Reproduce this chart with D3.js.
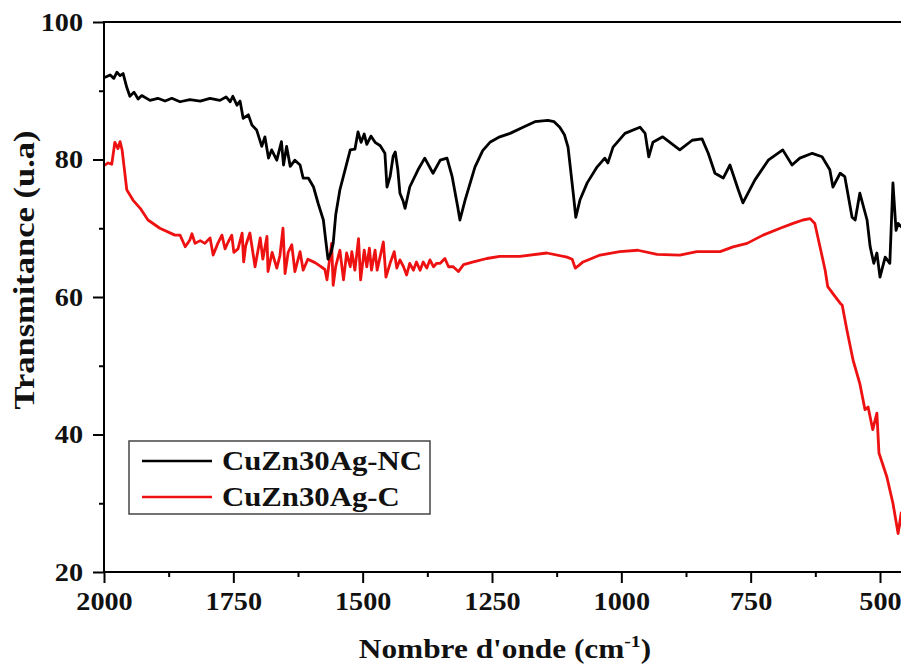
<!DOCTYPE html>
<html><head><meta charset="utf-8">
<script src="https://cdn.jsdelivr.net/npm/d3@7/dist/d3.min.js"></script>
<style>
html,body{margin:0;padding:0;background:#fff;overflow:hidden}
svg{display:block}
text{font-family:"Liberation Serif","Times New Roman",serif;font-weight:bold;fill:#111}
</style></head>
<body>
<svg id="chart" width="901" height="670"></svg>
<script>
// Wavenumber (cm-1) and transmittance (u.a)
const ncWave = [2000,1988,1981,1975,1969,1963,1956,1950,1942,1934,1927,1911,1896,1882,1869,1853,1834,1814,1795,1776,1764,1756,1751,1743,1737,1731,1721,1714,1705,1695,1689,1682,1676,1666,1657,1653,1647,1640,1631,1621,1615,1605,1595,1586,1576,1571,1567,1561,1557,1552,1544,1534,1524,1515,1509,1503,1497,1492,1484,1476,1466,1457,1453,1447,1441,1437,1432,1428,1422,1418,1409,1393,1380,1364,1350,1337,1327,1316,1312,1302,1283,1268,1254,1235,1215,1190,1167,1142,1130,1119,1110,1103,1093,1088,1080,1066,1047,1032,1026,1016,993,964,954,947,939,920,887,863,844,832,819,803,790,774,765,742,716,688,670,655,631,612,597,591,577,568,554,548,539,525,519,512,506,500,490,481,475,469,465,456];
const ncVal  = [91.9,92.3,91.8,92.7,92.2,92.5,90.5,89.2,89.8,88.8,89.3,88.6,88.9,88.5,88.9,88.4,88.7,88.5,88.9,88.6,89.1,88.4,89.2,87.9,88.5,86.0,86.5,85.0,84.3,81.9,83.3,80.2,81.4,79.9,82.6,79.2,81.9,79.0,79.9,79.2,77.3,77.3,76.0,73.6,71.2,68.0,65.5,66.5,67.8,72.0,75.6,78.5,81.4,81.5,84.0,82.5,83.7,82.2,83.4,82.5,82.0,80.9,76.0,77.5,80.5,81.1,78.5,75.1,74.0,72.9,76.0,78.5,80.2,78.0,79.9,80.2,77.5,73.0,71.2,74.1,78.9,81.3,82.5,83.3,83.8,84.7,85.5,85.7,85.5,84.7,83.6,81.8,75.1,71.6,74.1,76.6,78.9,80.2,79.5,81.8,83.8,84.7,83.8,80.4,82.5,83.3,81.4,82.8,83.0,80.9,78.0,77.3,79.2,75.6,73.7,77.0,79.9,81.4,79.2,80.2,80.9,80.4,78.5,76.0,78.0,77.5,71.6,71.2,75.1,71.2,67.3,64.9,66.4,62.9,65.8,64.9,76.6,69.7,70.7,70.0];

const cWave = [2000,1992,1985,1979,1973,1969,1965,1956,1944,1930,1915,1892,1863,1853,1847,1843,1834,1830,1824,1814,1805,1795,1789,1780,1772,1766,1760,1753,1749,1741,1733,1730,1726,1718,1708,1698,1693,1685,1683,1675,1666,1660,1654,1650,1644,1637,1631,1621,1615,1606,1592,1582,1573,1569,1560,1557,1552,1544,1537,1531,1524,1521,1515,1508,1504,1497,1492,1487,1483,1476,1472,1460,1455,1447,1439,1434,1428,1421,1415,1409,1402,1396,1389,1383,1376,1370,1363,1357,1350,1341,1334,1325,1315,1305,1286,1260,1235,1196,1144,1105,1095,1089,1082,1074,1041,1003,968,931,887,854,809,784,757,726,693,668,649,635,626,616,606,601,591,577,573,564,552,539,529,523,514,506,502,487,475,465,459,456];
const cVal  = [79.1,79.5,79.3,82.5,81.6,82.6,81.4,75.6,74.1,72.9,71.2,70.0,69.0,69.0,68.0,67.3,68.3,69.2,67.8,68.2,67.8,68.6,66.1,67.8,69.0,67.0,68.0,69.0,66.5,67.0,69.3,65.1,67.5,69.3,64.4,68.6,65.5,68.8,63.7,66.5,64.2,66.0,70.0,63.4,66.5,67.6,63.7,66.6,63.9,65.5,65.0,64.5,64.0,62.5,67.8,61.7,64.5,66.8,62.5,66.4,64.4,66.6,63.9,68.5,62.5,66.8,64.4,67.1,63.9,66.8,63.9,68.0,62.9,64.9,66.6,64.2,65.4,64.4,63.2,64.9,63.9,65.1,63.9,65.1,64.2,65.4,64.4,64.9,64.9,65.6,64.4,64.4,63.7,64.7,65.1,65.6,65.9,65.9,66.4,65.8,65.5,64.2,64.6,65.1,66.1,66.6,66.8,66.2,66.1,66.6,66.6,67.3,67.8,69.0,70.0,70.7,71.2,71.4,70.7,67.3,63.9,61.5,60.5,59.1,58.8,55.2,50.8,47.4,43.6,44.0,40.7,43.1,37.3,33.9,30.0,25.6,28.6,25.5];

const seriesNames = ["CuZn30Ag-NC","CuZn30Ag-C"];
const seriesColors = ["#000000","#ee1111"];
const xTicks = [2000,1750,1500,1250,1000,750,500];
const xMinor = [1875,1625,1375,1125,875,625];
const yTicks = [20,40,60,80,100];
const yMinor = [30,50,70,90];

const svg = d3.select("#chart");
const x = d3.scaleLinear().domain([2000,500]).range([104,880]);
const y = d3.scaleLinear().domain([20,100]).range([572,22]);
const xRightEdge = 920;
const sx = 1.13; // horizontal text stretch seen in the figure

svg.append("defs").append("clipPath").attr("id","clip")
  .append("rect").attr("x",104).attr("y",22).attr("width",xRightEdge-104).attr("height",550);

const line = d3.line().x(d=>x(d[0])).y(d=>y(d[1]));
const g = svg.append("g").attr("clip-path","url(#clip)");
g.append("path").datum(cWave.map((w,i)=>[w,cVal[i]]))
  .attr("d",line).attr("fill","none").attr("stroke",seriesColors[1]).attr("stroke-width",2.8).attr("stroke-linejoin","round");
g.append("path").datum(ncWave.map((w,i)=>[w,ncVal[i]]))
  .attr("d",line).attr("fill","none").attr("stroke",seriesColors[0]).attr("stroke-width",2.8).attr("stroke-linejoin","round");

// Axes
const axW = 2;
const xAxisG = svg.append("g").attr("transform","translate(0,572)");
xAxisG.call(d3.axisBottom(x).tickValues(xTicks).tickSize(11).tickPadding(8).tickFormat(d3.format("d")));
xAxisG.append("g").call(d3.axisBottom(x).tickValues(xMinor).tickSize(5).tickFormat(""));
xAxisG.selectAll("path.domain").remove();
xAxisG.selectAll("line").attr("stroke","#000").attr("stroke-width",axW);
xAxisG.selectAll("text").attr("font-size",25).attr("font-family","Liberation Serif").attr("font-weight","bold")
  .attr("fill","#111").attr("dy","0.75em").attr("transform",`scale(${sx},1)`);
svg.append("line").attr("x1",103).attr("x2",xRightEdge).attr("y1",572).attr("y2",572).attr("stroke","#000").attr("stroke-width",axW);
svg.append("line").attr("x1",103).attr("x2",xRightEdge).attr("y1",22).attr("y2",22).attr("stroke","#000").attr("stroke-width",axW);
const yAxisG = svg.append("g").attr("transform","translate(104,0)");
yAxisG.call(d3.axisLeft(y).tickValues(yTicks).tickSize(11).tickPadding(9).tickFormat(d3.format("d")));
yAxisG.append("g").call(d3.axisLeft(y).tickValues(yMinor).tickSize(5).tickFormat(""));
yAxisG.selectAll("path.domain").remove();
yAxisG.selectAll("line").attr("stroke","#000").attr("stroke-width",axW);
yAxisG.selectAll("text").attr("font-size",25).attr("font-family","Liberation Serif").attr("font-weight","bold")
  .attr("fill","#111").attr("x",-21/sx).attr("transform",`scale(${sx},1)`);
svg.append("line").attr("x1",104).attr("x2",104).attr("y1",21).attr("y2",573).attr("stroke","#000").attr("stroke-width",axW);

// Axis titles
const xt = svg.append("text").attr("transform",`translate(505,658) scale(1.16,1)`).attr("text-anchor","middle").attr("font-size",27);
xt.append("tspan").text("Nombre d'onde (cm");
xt.append("tspan").attr("font-size",17).attr("dy",-11).text("-1");
xt.append("tspan").attr("dy",11).text(")");

svg.append("text").attr("transform","translate(34,270) rotate(-90) scale(1.15,1)").attr("text-anchor","middle").attr("font-size",30).text("Transmitance (u.a)");

// Legend
const lg = svg.append("g");
lg.append("rect").attr("x",129).attr("y",441).attr("width",301).attr("height",73).attr("fill","#fff").attr("stroke","#444").attr("stroke-width",1.5);
const ly = [461,497];
seriesNames.forEach((n,i)=>{
  lg.append("line").attr("x1",142).attr("x2",212).attr("y1",ly[i]).attr("y2",ly[i]).attr("stroke",seriesColors[i]).attr("stroke-width",2.4);
  lg.append("text").attr("transform",`translate(222,${ly[i]}) scale(1.14,1)`).attr("dy","0.35em").attr("font-size",27).text(n);
});
</script>
</body></html>
